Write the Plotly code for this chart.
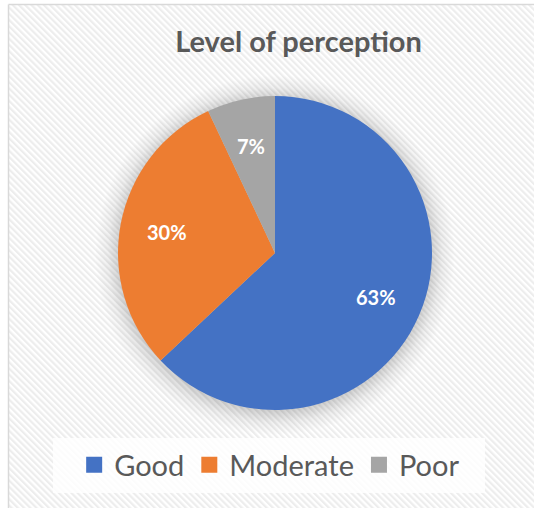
import base64
import math
import plotly.graph_objects as go

categories = ["Good", "Moderate", "Poor"]
values = [63, 30, 7]
colors = ["#4472C4", "#ED7D31", "#A5A5A5"]
title_text = "Level of perception"

W, H = 534, 508
dom_x = [0.2210, 0.8090]
dom_y = [0.1929, 0.8110]

# background: striped chart area, soft shadow around pie, translucent legend box
svg = f"""<svg xmlns='http://www.w3.org/2000/svg' width='{W}' height='{H}' viewBox='0 0 {W} {H}'>
<defs>
<pattern id='p' width='4.4' height='4.4' patternUnits='userSpaceOnUse' patternTransform='rotate(-45)'>
<rect width='4.4' height='4.4' fill='#ffffff'/><rect width='2.2' height='4.4' fill='#ededed'/>
</pattern>
<radialGradient id='g' cx='275' cy='255' r='180' gradientUnits='userSpaceOnUse'>
<stop offset='0.85' stop-color='#000' stop-opacity='0.20'/>
<stop offset='0.93' stop-color='#000' stop-opacity='0.06'/>
<stop offset='1' stop-color='#000' stop-opacity='0'/>
</radialGradient>
</defs>
<rect x='8.5' y='4.5' width='{W + 40}' height='{H + 40}' fill='url(#p)'/>
<line x1='8.5' y1='4.5' x2='{W + 40}' y2='4.5' stroke='#d9d9d9' stroke-width='1.5'/>
<line x1='8.5' y1='4.5' x2='8.5' y2='{H + 40}' stroke='#d9d9d9' stroke-width='1.5'/>
<circle cx='275' cy='255' r='180' fill='url(#g)'/>
<rect x='53' y='438' width='432' height='55' fill='#ffffff' fill-opacity='0.82'/>
</svg>"""
src = "data:image/svg+xml;base64," + base64.b64encode(svg.encode()).decode()

fig = go.Figure()
fig.add_trace(
    go.Pie(
        labels=categories,
        values=values,
        marker=dict(colors=colors, line=dict(width=0)),
        sort=False,
        direction="clockwise",
        rotation=0,
        textinfo="none",
        domain=dict(x=dom_x, y=dom_y),
        hoverinfo="label+percent",
        showlegend=False,
    )
)

# legend entries (larger square swatches)
for name, col in zip(categories, colors):
    fig.add_trace(
        go.Scatter(
            x=[None], y=[None], mode="markers", name=name,
            marker=dict(symbol="square", size=17, color=col),
            hoverinfo="skip",
        )
    )

# percentage labels placed at the middle angle of each slice (Excel-style)
cx = (dom_x[0] + dom_x[1]) / 2 * W
cy = (1 - (dom_y[0] + dom_y[1]) / 2) * H
r = min((dom_x[1] - dom_x[0]) * W, (dom_y[1] - dom_y[0]) * H) / 2
total = sum(values)
annotations = []
cum = 0
for v in values:
    mid = (cum + v / 2) / total * 2 * math.pi
    cum += v
    px = cx + 0.70 * r * math.sin(mid)
    py = cy - 0.70 * r * math.cos(mid)
    annotations.append(
        dict(
            text=f"{round(v / total * 100)}%",
            x=px / W, y=1 - py / H, xref="paper", yref="paper",
            showarrow=False, xanchor="center", yanchor="middle",
            font=dict(family="Lato", size=20, color="#ffffff", weight="bold"),
        )
    )

fig.update_layout(
    width=W,
    height=H,
    margin=dict(l=0, r=0, t=0, b=0),
    paper_bgcolor="#ffffff",
    plot_bgcolor="rgba(0,0,0,0)",
    xaxis=dict(visible=False),
    yaxis=dict(visible=False),
    title=dict(
        text=title_text,
        x=0.559,
        xanchor="center",
        y=0.918,
        yanchor="middle",
        font=dict(family="Lato", size=29, color="#595959", weight="bold"),
    ),
    showlegend=True,
    legend=dict(
        orientation="h",
        x=0.505,
        xanchor="center",
        y=0.0846,
        yanchor="middle",
        bgcolor="rgba(0,0,0,0)",
        font=dict(family="Lato", size=29, color="#595959"),
        itemwidth=30,
    ),
    annotations=annotations,
    images=[
        dict(
            source=src,
            xref="paper",
            yref="paper",
            x=0,
            y=1,
            sizex=1,
            sizey=1,
            sizing="stretch",
            xanchor="left",
            yanchor="top",
            layer="below",
        )
    ],
)

fig.write_html(
    "out.html",
    config={"displayModeBar": False},
    post_script=(
        "document.documentElement.style.overflow='hidden';"
        "document.body.style.overflow='hidden';"
        "document.body.style.margin='0';"
    ),
)
